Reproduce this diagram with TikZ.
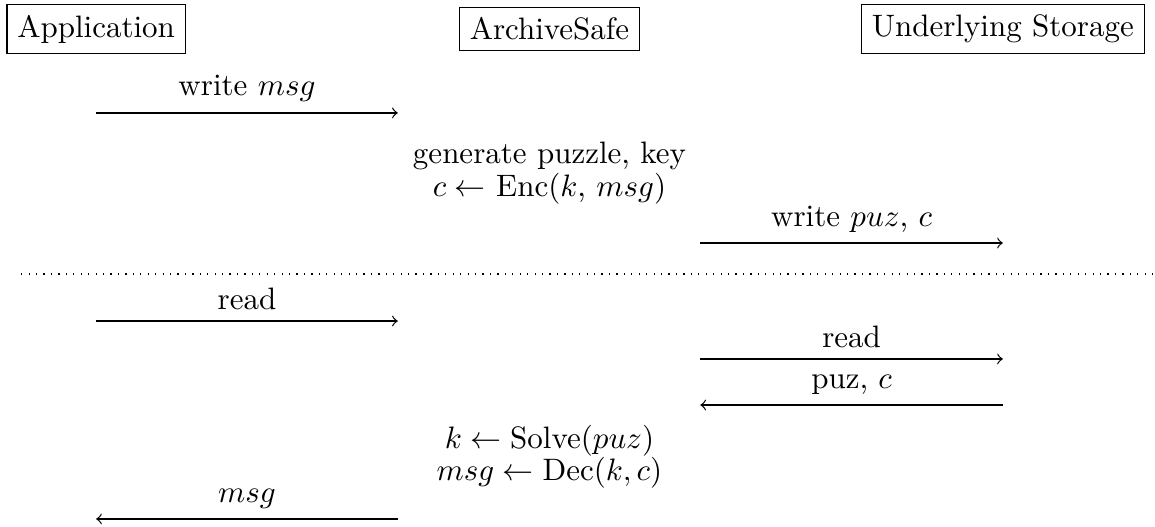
\documentclass[tikz,border=0pt]{standalone}
\usetikzlibrary{positioning}
\tikzset{
  party/.style={draw, inner sep=3.33pt},
  call/.style={->},
  step label/.style={midway, above},
  note/.style={align=center},
}

\begin{document}
\begin{tikzpicture}
    \useasboundingbox (0,0) rectangle (13.095,-5.975);
    % the three parties
    \node[party] (app) at (1.09,-0.33) {Application};
    \node[party] (safe) at (6.23,-0.33) {ArchiveSafe};
    \node[party] (store) at (11.37,-0.33) {Underlying Storage};

    % write phase
    \coordinate (w1a) at (1.09,-1.28);
    \coordinate (w1b) at (4.51,-1.28);
    \draw[call] (w1a) -- (w1b) node[step label] {write $msg$};
    \node[note] (gen) at (6.23,-1.96) {generate puzzle, key\\[-1.5pt] $c \leftarrow$ Enc($k$, $msg$)};
    \coordinate (w2a) at (7.94,-2.755);
    \coordinate (w2b) at (11.37,-2.755);
    \draw[call] (w2a) -- (w2b) node[step label] {write $puz$, $c$};

    % separator
    \coordinate (sepl) at (0.24,-3.107);
    \coordinate (sepr) at (13.07,-3.107);
    \draw[dotted] (sepl) -- (sepr);

    % read phase
    \coordinate (r1a) at (1.09,-3.64);
    \coordinate (r1b) at (4.51,-3.64);
    \draw[call] (r1a) -- (r1b) node[step label] {read};
    \coordinate (r2a) at (7.94,-4.07);
    \coordinate (r2b) at (11.37,-4.07);
    \draw[call] (r2a) -- (r2b) node[step label] {read};
    \coordinate (r3a) at (11.37,-4.592);
    \coordinate (r3b) at (7.94,-4.592);
    \draw[call] (r3a) -- (r3b) node[step label] {puz, $c$};
    \node[note] (solve) at (6.23,-5.18) {$k \leftarrow \mathrm{Solve}(puz)$\\[-1.5pt] $msg \leftarrow \mathrm{Dec}(k, c)$};
    \coordinate (r4a) at (4.51,-5.884);
    \coordinate (r4b) at (1.09,-5.884);
    \draw[call] (r4a) -- (r4b) node[step label] {$msg$};
\end{tikzpicture}
\end{document}
